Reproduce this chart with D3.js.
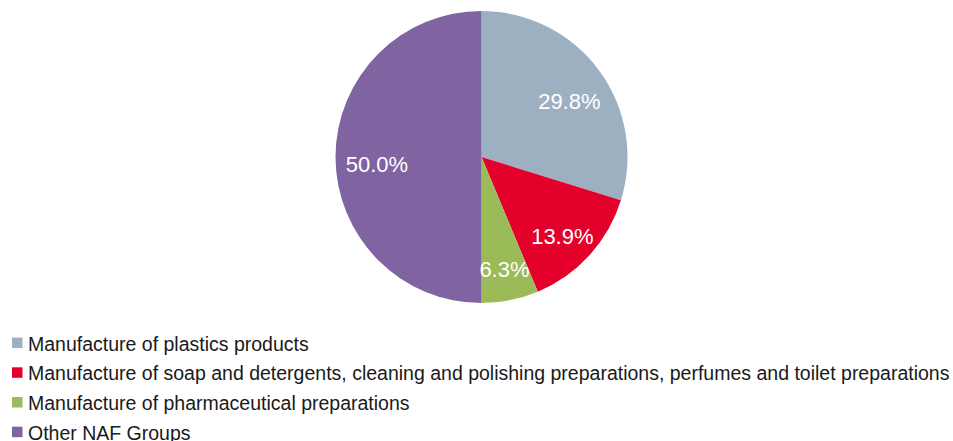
<!DOCTYPE html>
<html><head><meta charset="utf-8">
<script src="https://cdn.jsdelivr.net/npm/d3@7"></script>
<style>body{margin:0;background:#fff}svg{display:block}text{font-family:"Liberation Sans",Arial,Helvetica,sans-serif}</style>
</head><body>
<svg id="c" width="953" height="441"></svg>
<script>
const categories = [
  "Manufacture of plastics products",
  "Manufacture of soap and detergents, cleaning and polishing preparations, perfumes and toilet preparations",
  "Manufacture of pharmaceutical preparations",
  "Other NAF Groups"
];
const values = [29.8, 13.9, 6.3, 50.0];
const labels = ["29.8%", "13.9%", "6.3%", "50.0%"];
const colors = ["#9db0c1", "#e4002b", "#9bbb59", "#8064a2"];

const svg = d3.select("#c");
const cx = 481.5, cy = 157, r = 146;
const pie = d3.pie().sort(null).value(d => d)(values);
const arc = d3.arc().innerRadius(0).outerRadius(r);
const labelArc = d3.arc().innerRadius(r * 0.73).outerRadius(r * 0.73);
const g = svg.append("g").attr("transform", `translate(${cx},${cy})`);
g.selectAll("path").data(pie).join("path")
  .attr("d", arc).attr("fill", (d, i) => colors[i]);
g.selectAll("text").data(pie).join("text")
  .attr("transform", d => { const c = labelArc.centroid(d); return `translate(${c[0] + 2},${c[1] + 7.5 + 7.9})`; })
  .attr("text-anchor", "middle")
  .attr("fill", "#fff").attr("font-size", 22)
  .text((d, i) => labels[i]);

const leg = svg.append("g");
const rows = leg.selectAll("g").data(categories).join("g")
  .attr("transform", (d, i) => `translate(12,${350.6 + i * 29.7})`);
rows.append("rect").attr("x", 0).attr("y", -13).attr("width", 10.5).attr("height", 10.5)
  .attr("fill", (d, i) => colors[i]);
rows.append("text").attr("x", 16).attr("y", 0)
  .attr("font-size", 19.5).attr("fill", "#1a1a1a").text(d => d);
</script>
</body></html>
